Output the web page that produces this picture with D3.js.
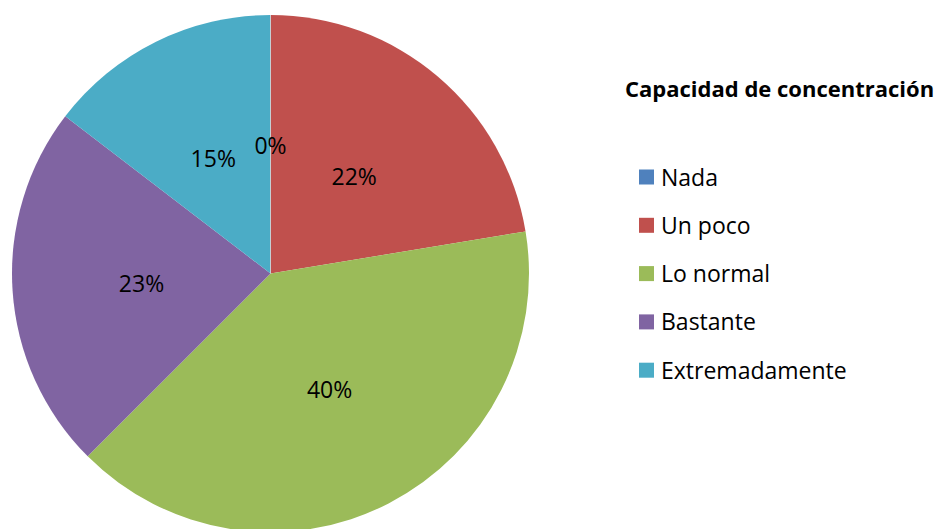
<!DOCTYPE html>
<html lang="es">
<head>
<meta charset="UTF-8">
<title>Capacidad de concentración</title>
<script src="https://cdn.jsdelivr.net/npm/d3@7"></script>
<style>
    body { margin: 0; background: #fff; }
    svg { display: block; font-family: "Open Sans", Lato, sans-serif; }
    .slice-label { font-size: 23px; fill: #000; }
    .legend-title { font-size: 22px; font-weight: bold; fill: #000; }
    .legend text { font-size: 23px; fill: #000; }
</style>
</head>
<body>
<div id="chart"></div>
<script>
// categories and values (percent)
var categories = ["Nada", "Un poco", "Lo normal", "Bastante", "Extremadamente"];
var values = [0, 22.4, 40.1, 22.9, 14.6];
var labels = ["0%", "22%", "40%", "23%", "15%"];
var colors = ["#4F81BD", "#C0504D", "#9BBB59", "#8064A2", "#4BACC6"];
var legendTitle = "Capacidad de concentración";

var width = 940, height = 529;
var cx = 270.5, cy = 273.5, radius = 258.5;

var svg = d3.select("#chart").append("svg")
    .attr("width", width)
    .attr("height", height);

var data = categories.map(function(c, i) {
    return { name: c, value: values[i], label: labels[i], color: colors[i] };
});

var pie = d3.pie().value(function(d) { return d.value; }).sort(null);
var arc = d3.arc().innerRadius(0).outerRadius(radius);
var labelArc = d3.arc().innerRadius(radius * 0.5).outerRadius(radius * 0.5);

var g = svg.append("g").attr("transform", "translate(" + cx + "," + cy + ")");
var arcs = pie(data);

g.selectAll("path")
    .data(arcs)
    .join("path")
    .attr("d", arc)
    .attr("fill", function(d) { return d.data.color; });

// thin light line where the empty "Nada" slice sits
g.append("line")
    .attr("x1", 0).attr("y1", 0)
    .attr("x2", 0).attr("y2", -radius)
    .attr("stroke", "#e8e8e8")
    .attr("stroke-width", 1)
    .attr("opacity", 0.6);

g.selectAll("text.slice-label")
    .data(arcs)
    .join("text")
    .attr("class", "slice-label")
    .attr("transform", function(d) { return "translate(" + labelArc.centroid(d) + ")"; })
    .attr("text-anchor", "middle")
    .attr("dy", "0.42em")
    .text(function(d) { return d.data.label; });

// legend
svg.append("text")
    .attr("class", "legend-title")
    .attr("x", 625)
    .attr("y", 97)
    .text(legendTitle);

var legend = svg.selectAll(".legend")
    .data(data)
    .join("g")
    .attr("class", "legend")
    .attr("transform", function(d, i) { return "translate(639," + (177 + i * 48.3) + ")"; });

legend.append("rect")
    .attr("x", 0)
    .attr("y", -7.5)
    .attr("width", 15)
    .attr("height", 15)
    .attr("fill", function(d) { return d.color; });

legend.append("text")
    .attr("x", 22)
    .attr("dy", "0.37em")
    .text(function(d) { return d.name; });
</script>
</body>
</html>
